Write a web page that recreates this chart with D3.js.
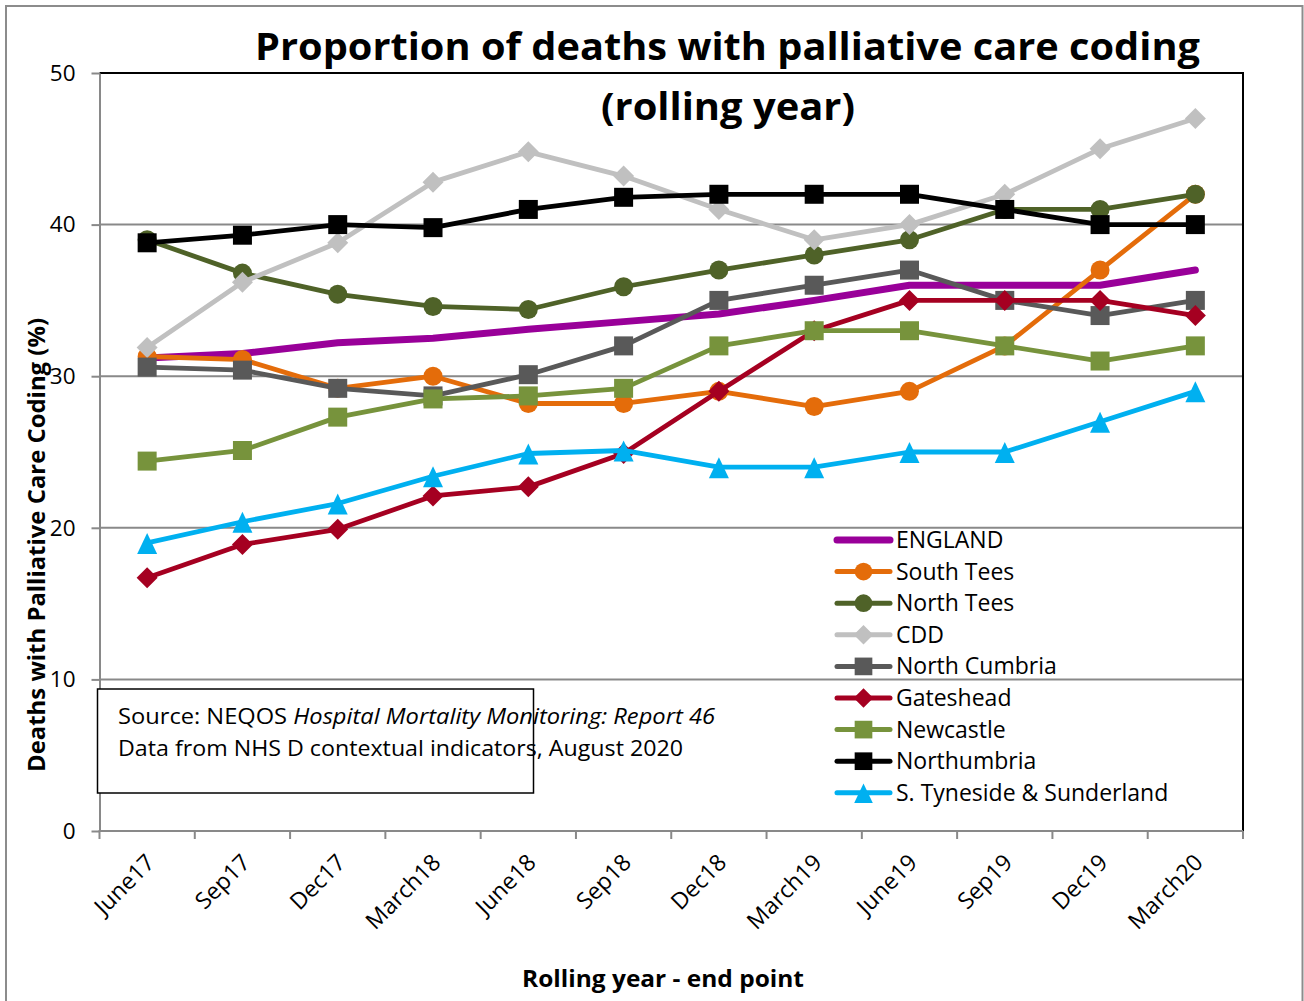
<!DOCTYPE html>
<html>
<head>
<meta charset="utf-8">
<script src="https://cdn.jsdelivr.net/npm/d3@7"></script>
<style>
  html, body { margin: 0; padding: 0; background: #fff; }
  svg { display: block; font-family: "Open Sans", sans-serif; }
</style>
</head>
<body>
<svg id="chart" width="1304" height="1001"></svg>
<script>
// Rolling-year end points
const categories = ["June17", "Sep17", "Dec17", "March18", "June18", "Sep18",
                    "Dec18", "March19", "June19", "Sep19", "Dec19", "March20"];

// Percentage of deaths with palliative care coding, per trust
const england      = [31.2, 31.5, 32.2, 32.5, 33.1, 33.6, 34.1, 35.0, 36.0, 36.0, 36.0, 37.0];
const southTees    = [31.3, 31.1, 29.2, 30.0, 28.2, 28.2, 29.0, 28.0, 29.0, 32.0, 37.0, 42.0];
const northTees    = [39.0, 36.8, 35.4, 34.6, 34.4, 35.9, 37.0, 38.0, 39.0, 41.0, 41.0, 42.0];
const cdd          = [31.9, 36.2, 38.8, 42.8, 44.8, 43.2, 41.0, 39.0, 40.0, 42.0, 45.0, 47.0];
const northCumbria = [30.6, 30.4, 29.2, 28.7, 30.1, 32.0, 35.0, 36.0, 37.0, 35.0, 34.0, 35.0];
const gateshead    = [16.7, 18.9, 19.9, 22.1, 22.7, 24.9, 29.0, 33.0, 35.0, 35.0, 35.0, 34.0];
const newcastle    = [24.4, 25.1, 27.3, 28.5, 28.7, 29.2, 32.0, 33.0, 33.0, 32.0, 31.0, 32.0];
const northumbria  = [38.8, 39.3, 40.0, 39.8, 41.0, 41.8, 42.0, 42.0, 42.0, 41.0, 40.0, 40.0];
const sTyneside    = [19.0, 20.4, 21.6, 23.4, 24.9, 25.1, 24.0, 24.0, 25.0, 25.0, 27.0, 29.0];

const seriesNames = ["ENGLAND", "South Tees", "North Tees", "CDD", "North Cumbria",
                     "Gateshead", "Newcastle", "Northumbria", "S. Tyneside & Sunderland"];
const seriesValues = [england, southTees, northTees, cdd, northCumbria,
                      gateshead, newcastle, northumbria, sTyneside];

const yTicks = [0, 10, 20, 30, 40, 50];

// Visual style per series (same order as seriesNames)
const seriesColors  = ["#990099", "#E46C0A", "#4F6228", "#C0C0C0", "#595959",
                       "#A50021", "#77933C", "#000000", "#00B0F0"];
const seriesMarkers = ["none", "circle", "circle", "diamond", "square",
                       "diamond", "square", "square", "triangle"];

const series = seriesNames.map((name, i) => ({
  name, values: seriesValues[i], color: seriesColors[i], marker: seriesMarkers[i]
}));

// ---- layout ----
const svg = d3.select("#chart");
const plot = { left: 99.5, right: 1243, top: 73, bottom: 831 };
const gridColor = "#898989";

const x = d3.scaleBand().domain(categories).range([plot.left, plot.right]);
const xc = c => x(c) + x.bandwidth() / 2;
const y = d3.scaleLinear().domain([0, 50]).range([plot.bottom, plot.top]);

// outer frame
svg.append("rect")
  .attr("x", 6).attr("y", 6).attr("width", 1296.5).attr("height", 1010)
  .attr("fill", "none").attr("stroke", "#8c8c8c").attr("stroke-width", 2);

// horizontal gridlines
svg.append("g").selectAll("line")
  .data(yTicks.filter(t => t > 0 && t < 50))
  .join("line")
  .attr("x1", plot.left).attr("x2", plot.right)
  .attr("y1", d => y(d)).attr("y2", d => y(d))
  .attr("stroke", gridColor).attr("stroke-width", 2);

// plot frame: black top and right edges
svg.append("path")
  .attr("d", `M${plot.left},${y(50)}H${plot.right}V${y(0)}`)
  .attr("fill", "none").attr("stroke", "#000").attr("stroke-width", 2);

// y axis
const yAxis = svg.append("g")
  .attr("transform", `translate(${plot.left},0)`)
  .call(d3.axisLeft(y).tickValues(yTicks).tickSize(8).tickPadding(16).tickSizeOuter(0));
yAxis.select(".domain").attr("stroke", gridColor).attr("stroke-width", 2);
yAxis.selectAll(".tick line").attr("stroke", gridColor).attr("stroke-width", 2);
yAxis.selectAll(".tick text")
  .attr("font-family", "Open Sans").attr("font-size", 22.5).attr("fill", "#000");

// x axis line with ticks on band boundaries
const xg = svg.append("g");
xg.append("line")
  .attr("x1", plot.left - 1).attr("x2", plot.right)
  .attr("y1", y(0)).attr("y2", y(0))
  .attr("stroke", gridColor).attr("stroke-width", 2);
const edges = categories.map(c => x(c)).concat([x(categories[categories.length - 1]) + x.bandwidth()]);
xg.selectAll("line.tk").data(edges).join("line").attr("class", "tk")
  .attr("x1", d => d).attr("x2", d => d)
  .attr("y1", y(0)).attr("y2", y(0) + 8)
  .attr("stroke", gridColor).attr("stroke-width", 2);
xg.selectAll("text").data(categories).join("text")
  .attr("transform", d => `translate(${xc(d) + 9},${y(0) + 33}) rotate(-45)`)
  .attr("text-anchor", "end")
  .attr("font-size", 23).attr("fill", "#000")
  .text(d => d);

// markers
function markerPath(kind) {
  switch (kind) {
    case "circle":   return d3.symbol(d3.symbolCircle, Math.PI * 9.5 * 9.5)();
    case "square":   return "M-9.5,-9.5H9.5V9.5H-9.5Z";
    case "diamond":  return "M0,-10.5L10.5,0L0,10.5L-10.5,0Z";
    case "triangle": return "M0,-10L10,11L-10,11Z";
  }
  return null;
}

const line = d3.line()
  .x((d, i) => xc(categories[i]))
  .y(d => y(d));

// series, drawn in legend order
series.forEach(s => {
  const g = svg.append("g");
  g.append("path")
    .attr("d", line(s.values))
    .attr("fill", "none")
    .attr("stroke", s.color)
    .attr("stroke-width", s.marker === "none" ? 7 : 4.8)
    .attr("stroke-linejoin", "round")
    .attr("stroke-linecap", "round");
  if (s.marker !== "none") {
    g.selectAll("path.m").data(s.values).join("path").attr("class", "m")
      .attr("d", markerPath(s.marker))
      .attr("transform", (d, i) => `translate(${xc(categories[i])},${y(d)})`)
      .attr("fill", s.color);
  }
});

// legend
const legend = svg.append("g");
const legendTop = 540, legendStep = 31.6;
series.forEach((s, i) => {
  const ly = legendTop + i * legendStep;
  const g = legend.append("g").attr("transform", `translate(0,${ly})`);
  g.append("line")
    .attr("x1", 837).attr("x2", 890).attr("y1", 0).attr("y2", 0)
    .attr("stroke", s.color)
    .attr("stroke-width", s.marker === "none" ? 7 : 5)
    .attr("stroke-linecap", "round");
  if (s.marker !== "none") {
    g.append("path").attr("d", markerPath(s.marker))
      .attr("transform", "translate(863.5,0) scale(0.93)")
      .attr("fill", s.color);
  }
  g.append("text")
    .attr("x", 896).attr("y", 0).attr("dy", "0.35em")
    .attr("font-size", 23).attr("fill", "#000")
    .text(s.name);
});

// source note
const note = svg.append("g");
note.append("rect")
  .attr("x", 97.5).attr("y", 689).attr("width", 436).attr("height", 104)
  .attr("fill", "#fff").attr("stroke", "#000").attr("stroke-width", 1.5);
const n1 = note.append("text").attr("x", 118).attr("y", 724)
  .attr("font-size", 21).attr("fill", "#000")
  .attr("textLength", 597).attr("lengthAdjust", "spacingAndGlyphs");
n1.append("tspan").text("Source: NEQOS ");
n1.append("tspan").attr("font-style", "italic").text("Hospital Mortality Monitoring: Report 46");
note.append("text").attr("x", 118).attr("y", 756)
  .attr("font-size", 21).attr("fill", "#000")
  .attr("textLength", 565).attr("lengthAdjust", "spacingAndGlyphs")
  .text("Data from NHS D contextual indicators, August 2020");

// titles
svg.append("text")
  .attr("x", 255).attr("y", 60)
  .attr("font-size", 38).attr("font-weight", "bold").attr("fill", "#000")
  .attr("textLength", 945).attr("lengthAdjust", "spacingAndGlyphs")
  .text("Proportion of deaths with palliative care coding");
svg.append("text")
  .attr("x", 601).attr("y", 120)
  .attr("font-size", 38).attr("font-weight", "bold").attr("fill", "#000")
  .attr("textLength", 254).attr("lengthAdjust", "spacingAndGlyphs")
  .text("(rolling year)");

svg.append("text")
  .attr("transform", "translate(45,545) rotate(-90)")
  .attr("text-anchor", "middle")
  .attr("font-size", 23).attr("font-weight", "bold").attr("fill", "#000")
  .attr("textLength", 454).attr("lengthAdjust", "spacingAndGlyphs")
  .text("Deaths with Palliative Care Coding (%)");

svg.append("text")
  .attr("x", 663).attr("y", 987)
  .attr("text-anchor", "middle")
  .attr("font-size", 23).attr("font-weight", "bold").attr("fill", "#000")
  .attr("textLength", 282).attr("lengthAdjust", "spacingAndGlyphs")
  .text("Rolling year - end point");
</script>
</body>
</html>
